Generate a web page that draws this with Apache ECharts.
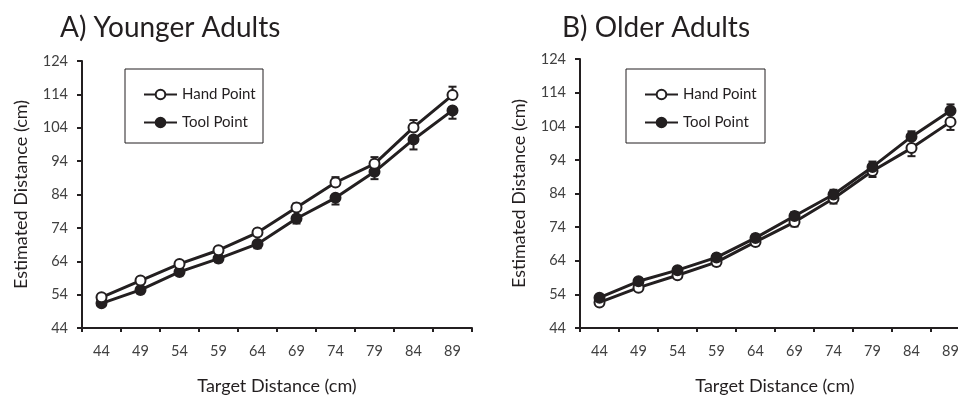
<!DOCTYPE html>
<html>
<head>
<meta charset="utf-8">
<script src="https://cdn.jsdelivr.net/npm/echarts@6/dist/echarts.min.js"></script>
<style>
html,body{margin:0;padding:0;background:#fff;overflow:hidden;width:958px;height:400px;}
#chart{width:975px;height:400px;}
</style>
</head>
<body>
<div id="chart"></div>
<script>
var categories = ['44','49','54','59','64','69','74','79','84','89'];
var yTicks = [44,54,64,74,84,94,104,114,124];

var youngHand = [53.2,58.2,63.2,67.3,72.6,80.1,87.6,93.2,104.1,113.8];
var youngTool = [51.4,55.4,60.8,64.8,69.2,76.8,83.0,90.8,100.5,109.2];
var youngHandErr = [0.8,0.8,0.8,0.9,1.0,1.2,1.6,2.0,2.2,2.5];
var youngToolErr = [0.8,1.0,1.0,1.1,1.3,1.5,2.0,2.2,3.0,2.5];

var oldHand = [51.6,56.0,59.7,63.6,69.6,75.5,82.5,90.7,97.5,105.3];
var oldTool = [53.0,57.9,61.2,65.0,70.8,77.3,83.7,91.9,100.9,108.6];
var oldHandErr = [0.8,0.9,0.9,1.0,1.0,1.3,1.5,1.8,2.4,2.4];
var oldToolErr = [0.8,0.9,0.9,1.0,1.0,1.2,1.4,1.6,1.6,1.9];

var FONT = 'Lato';
var INK = '#231f20';
var chart = echarts.init(document.getElementById('chart'));

function errData(vals, errs, dir) {
  return vals.map(function (v, i) { return [i, v, errs[i], dir]; });
}
function errSeries(idx, vals, errs, dir, z) {
  return {
    type: 'custom', xAxisIndex: idx, yAxisIndex: idx, z: z, silent: true,
    data: errData(vals, errs, dir),
    renderItem: function (params, api) {
      var x = api.value(0), v = api.value(1), e = api.value(2), d = api.value(3);
      var p0 = api.coord([x, v]);
      var p1 = api.coord([x, v + d * e]);
      var hw = 4;
      return {
        type: 'group',
        children: [
          {type: 'line', shape: {x1: p0[0], y1: p0[1], x2: p1[0], y2: p1[1]}, style: {stroke: INK, lineWidth: 2}},
          {type: 'line', shape: {x1: p1[0] - hw, y1: p1[1], x2: p1[0] + hw, y2: p1[1]}, style: {stroke: INK, lineWidth: 2}}
        ]
      };
    }
  };
}

function xAxis(idx) {
  return {
    type: 'category', gridIndex: idx, data: categories, boundaryGap: true,
    name: 'Target Distance (cm)', nameLocation: 'middle', nameGap: 49,
    nameTextStyle: {fontFamily: FONT, fontSize: 18, color: INK},
    axisLine: {lineStyle: {color: INK, width: 2}},
    axisTick: {show: true, length: 4, lineStyle: {color: INK, width: 2}},
    axisLabel: {fontFamily: FONT, fontSize: 14.5, color: '#404040', margin: 16}
  };
}
function yAxis(idx) {
  return {
    type: 'value', gridIndex: idx, min: 44, max: 124, interval: 10,
    name: 'Estimated Distance (cm)', nameLocation: 'middle', nameGap: 52, nameRotate: 90,
    nameTextStyle: {fontFamily: FONT, fontSize: 18, color: INK},
    axisLine: {show: true, lineStyle: {color: INK, width: 2}},
    axisTick: {show: true, length: 5, lineStyle: {color: INK, width: 2}},
    axisLabel: {fontFamily: FONT, fontSize: 14.5, color: '#404040', margin: 14},
    splitLine: {show: false}
  };
}
function lineSeries(name, idx, data, filled, z) {
  return {
    name: name, type: 'line', xAxisIndex: idx, yAxisIndex: idx, data: data, z: z,
    symbol: 'circle', symbolSize: 10,
    lineStyle: {color: INK, width: 3},
    itemStyle: {color: filled ? INK : '#ffffff', borderColor: INK, borderWidth: 2},
    emphasis: {disabled: true}
  };
}
function legend(left, names) {
  return {left: left, top: 87, orient: 'vertical', itemWidth: 33, itemHeight: 12, itemGap: 13, itemTextGap: 3,
    textStyle: {fontFamily: FONT, fontSize: 15, color: INK}, padding: 0,
    data: names, selectedMode: false};
}

var option = {
  animation: false,
  backgroundColor: '#ffffff',
  title: [
    {text: 'A) Younger Adults', left: 55, top: 9, textStyle: {fontFamily: FONT, fontSize: 28, fontWeight: 'normal', color: INK}},
    {text: 'B) Older Adults', left: 557, top: 9, textStyle: {fontFamily: FONT, fontSize: 28, fontWeight: 'normal', color: INK}}
  ],
  grid: [
    {left: 82, top: 61, width: 390, height: 273},
    {left: 580, top: 59, width: 390, height: 275}
  ],
  xAxis: [xAxis(0), xAxis(1)],
  yAxis: [yAxis(0), yAxis(1)],
  legend: [legend(143, ['Hand Point', 'Tool Point']), legend(644, ['Hand Point ', 'Tool Point '])],
  graphic: [
    {type: 'rect', shape: {x: 125, y: 69, width: 138, height: 74}, style: {fill: 'none', stroke: INK, lineWidth: 1}, z: 0},
    {type: 'rect', shape: {x: 626, y: 69, width: 139, height: 74}, style: {fill: 'none', stroke: INK, lineWidth: 1}, z: 0}
  ],
  series: [
    errSeries(0, youngTool, youngToolErr, -1, 2),
    errSeries(0, youngHand, youngHandErr, 1, 2),
    lineSeries('Tool Point', 0, youngTool, true, 3),
    lineSeries('Hand Point', 0, youngHand, false, 4),
    errSeries(1, oldHand, oldHandErr, -1, 2),
    errSeries(1, oldTool, oldToolErr, 1, 2),
    lineSeries('Hand Point ', 1, oldHand, false, 3),
    lineSeries('Tool Point ', 1, oldTool, true, 4)
  ]
};
chart.setOption(option);
</script>
</body>
</html>
